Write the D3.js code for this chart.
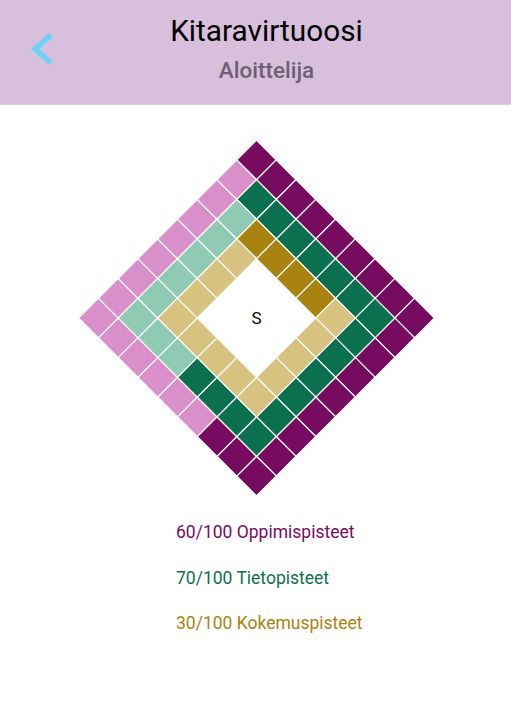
<!DOCTYPE html>
<html><head><meta charset="utf-8">
<script src="https://cdn.jsdelivr.net/npm/d3@7"></script>
<style>
html,body{margin:0;padding:0;background:#fff;}
svg{display:block;font-family:Roboto,"Noto Sans",sans-serif;}
</style></head>
<body>
<svg id="c" width="511" height="717"></svg>
<script>
const title = "Kitaravirtuoosi";
const subtitle = "Aloittelija";
const centerLabel = "S";
const series = ["Oppimispisteet", "Tietopisteet", "Kokemuspisteet"];
const values = [60, 70, 30];
const maxValues = [100, 100, 100];
const ringLevels = [4, 3, 2]; // distance from centre cell in a 9x9 grid
const fillColors = ["#770B5F", "#0B7050", "#A8830F"];
const emptyColors = ["#D98FC9", "#8ECAB4", "#D7C27F"];
const gridSize = 9;

const svg = d3.select("#c");
// header
svg.append("rect").attr("x",0).attr("y",0).attr("width",511).attr("height",104).attr("fill","#D8C0DD");
svg.append("rect").attr("x",0).attr("y",104).attr("width",511).attr("height",1).attr("fill","#D3D3D3");
svg.append("path").attr("d","M51,35 L35,49 L51,63").attr("fill","none").attr("stroke","#6CD3F5").attr("stroke-width",5.5).attr("stroke-linecap","butt");
svg.append("text").attr("x",266.5).attr("y",41).attr("text-anchor","middle").attr("font-size",29.8).attr("fill","#000").text(title);
svg.append("text").attr("x",266.5).attr("y",78).attr("text-anchor","middle").attr("font-size",22.5).attr("font-weight",500).attr("fill","#6E6072").text(subtitle);

// grid
const cx = 256.5, cy = 318;
const side = 251.5;
const idx = d3.range(gridSize);
const band = d3.scaleBand().domain(idx).range([-side/2, side/2]).padding(0);
const cells = [];
const mid = (gridSize-1)/2;
ringLevels.forEach((lvl, r) => {
  // clockwise path starting at top-left corner of ring
  const lo = mid - lvl, hi = mid + lvl;
  const path = [];
  for (let c = lo; c < hi; c++) path.push([lo, c]);
  for (let rr = lo; rr < hi; rr++) path.push([rr, hi]);
  for (let c = hi; c > lo; c--) path.push([hi, c]);
  for (let rr = hi; rr > lo; rr--) path.push([rr, lo]);
  const filled = Math.floor(path.length * values[r] / maxValues[r]);
  path.forEach((p, k) => cells.push({row:p[0], col:p[1], ring:r, on:k < filled}));
});
const g = svg.append("g").attr("transform", `translate(${cx},${cy}) rotate(45)`);
g.append("rect").attr("x",-side/2-0.5).attr("y",-side/2-0.5).attr("width",side+1).attr("height",side+1)
  .attr("fill","none").attr("stroke","#F3E4F0").attr("stroke-width",1);
g.selectAll("rect.cell").data(cells).join("rect").attr("class","cell")
  .attr("x", d => band(d.col)).attr("y", d => band(d.row))
  .attr("width", band.bandwidth()).attr("height", band.bandwidth())
  .attr("fill", d => d.on ? fillColors[d.ring] : emptyColors[d.ring])
  .attr("stroke","#fff").attr("stroke-width",1.2);
svg.append("text").attr("x",cx).attr("y",cy+6).attr("text-anchor","middle").attr("font-size",17).attr("fill","#000").text(centerLabel);

// legend
const ly = d3.scalePoint().domain(series).range([538, 629]);
svg.selectAll("text.leg").data(series).join("text").attr("class","leg")
  .attr("x",176).attr("y", d => ly(d)).attr("font-size",17.5).attr("font-weight",400)
  .attr("fill",(d,i)=>fillColors[i])
  .text((d,i)=>`${values[i]}/${maxValues[i]} ${d}`);
</script>
</body></html>
